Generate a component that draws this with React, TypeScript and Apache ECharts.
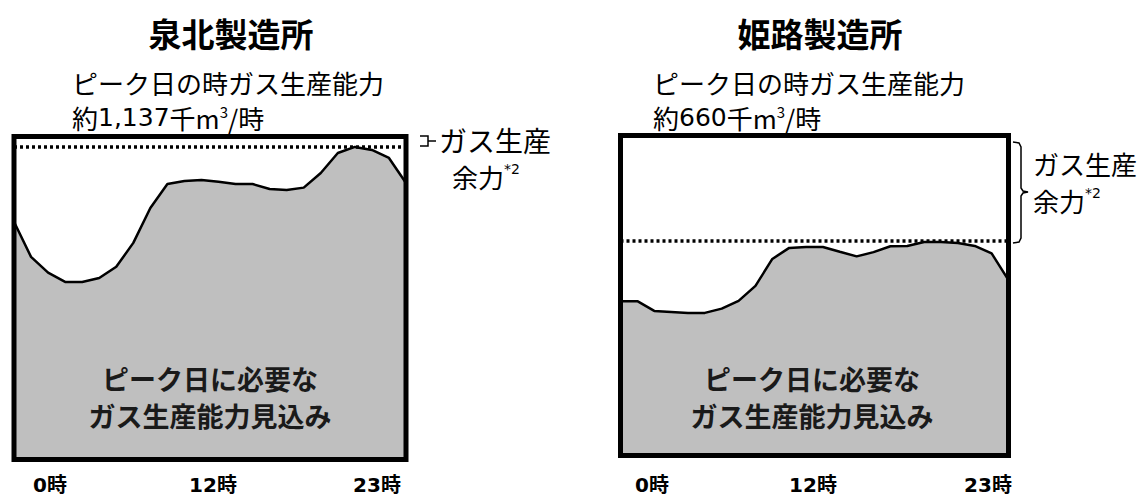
import React, { useEffect, useRef } from 'react';
import * as echarts from 'echarts';

const hours = ['0', '1', '2', '3', '4', '5', '6', '7', '8', '9', '10', '11', '12', '13', '14', '15', '16', '17', '18', '19', '20', '21', '22', '23'];
const hourLabels = ['0時', '12時', '23時'];

const plantNames = ['泉北製造所', '姫路製造所'];
const capacityTexts = ['1,137', '660'];

const senbokuDemand = [865, 737, 680, 646, 646, 660, 701, 788, 915, 1002, 1013, 1017, 1010, 1002, 1002, 984, 980, 989, 1042, 1115, 1137, 1126, 1097, 1006];
const senbokuCapacity = 1137;
const senbokuAxisMax = 1175;

const himejiDemand = [475, 475, 445, 442, 439, 439, 452, 476, 522, 605, 639, 642, 642, 627, 613, 626, 644, 645, 657, 657, 654, 645, 622, 540];
const himejiCapacity = 660;
const himejiAxisMax = 985;

const FONT = '"Noto Sans CJK JP", "Noto Sans", sans-serif';
const NUMFONT = '"DejaVu Sans", "Noto Sans CJK JP", sans-serif';

const grids = [
  { left: 14, top: 136.5, width: 392, height: 323 },
  { left: 620.5, top: 135.5, width: 388, height: 320 },
];

export default function App() {
  const ref = useRef<HTMLDivElement>(null);

  useEffect(() => {
    document.body.style.margin = '0';
    if (!ref.current) return;
    const chart = echarts.init(ref.current, undefined, { renderer: 'svg' });

    const makeSeries = (idx: number, data: number[], cap: number) => ({
      type: 'line',
      xAxisIndex: idx,
      yAxisIndex: idx,
      data,
      symbol: 'none',
      smooth: false,
      lineStyle: { color: '#000', width: 2.5 },
      areaStyle: { color: '#bfbfbf', opacity: 1 },
      markLine: {
        silent: true,
        symbol: 'none',
        label: { show: false },
        emphasis: { disabled: true },
        lineStyle: { color: '#000', width: 3.5, type: [3, 3] },
        data: [{ yAxis: cap }],
      },
    });

    const textBase = { fontFamily: FONT, fill: '#000' };

    const hourLabelPos = [
      [50, 213, 377],
      [652, 813, 988],
    ];

    const graphics: any[] = [];
    grids.forEach((g, i) => {
      graphics.push({
        type: 'rect',
        z: 100,
        shape: { x: g.left, y: g.top, width: g.width, height: g.height },
        style: { fill: 'none', stroke: '#000', lineWidth: 5 },
      });
      graphics.push({
        type: 'text',
        z: 100,
        x: i === 0 ? 231 : 820,
        y: 33,
        style: { ...textBase, text: plantNames[i], fontSize: 33, lineHeight: 36, fontWeight: 'bold', align: 'center', verticalAlign: 'middle' },
      });
      graphics.push({
        type: 'text',
        z: 100,
        x: i === 0 ? 72 : 653,
        y: 82,
        style: { ...textBase, text: 'ピーク日の時ガス生産能力', fontSize: 26, lineHeight: 26, align: 'left', verticalAlign: 'middle' },
      });
      graphics.push({
        type: 'text',
        z: 100,
        x: i === 0 ? 72 : 653,
        y: 117,
        style: {
          ...textBase,
          text: '{n|約}{d|' + capacityTexts[i] + '}{n|千m}{s|3}{n|/時}',
          align: 'left',
          verticalAlign: 'middle',
          rich: {
            n: { fontFamily: FONT, fontSize: 26, lineHeight: 26, fill: '#000', color: '#000' },
            d: { fontFamily: NUMFONT, fontSize: 25, lineHeight: 26, fill: '#000', color: '#000' },
            s: { fontFamily: FONT, fontSize: 15, lineHeight: 16, verticalAlign: 'top', fill: '#000', color: '#000' },
          },
        },
      });
      graphics.push({
        type: 'text',
        z: 100,
        x: i === 0 ? 210 : 812,
        y: 397,
        style: {
          ...textBase,
          fill: '#1a1a1a',
          text: 'ピーク日に必要な\nガス生産能力見込み',
          fontSize: 27,
          fontWeight: 'bold',
          lineHeight: 37,
          align: 'center',
          verticalAlign: 'middle',
        },
      });
      hourLabels.forEach((lab, j) => {
        graphics.push({
          type: 'text',
          z: 100,
          x: hourLabelPos[i][j],
          y: 485,
          style: { ...textBase, fontFamily: NUMFONT, text: lab, fontSize: 20, lineHeight: 20, fontWeight: 'bold', align: 'center', verticalAlign: 'middle' },
        });
      });
    });

    const sideRich = {
      n: { fontFamily: FONT, fontSize: 26, lineHeight: 28, fill: '#000', color: '#000' },
      s: { fontFamily: NUMFONT, fontSize: 14, lineHeight: 16, verticalAlign: 'top', fill: '#000', color: '#000' },
    };
    graphics.push({
      type: 'polyline',
      z: 100,
      shape: { points: [[420, 136], [428, 136], [428, 146], [420, 146]] },
      style: { stroke: '#000', lineWidth: 1.5, fill: 'none' },
    });
    graphics.push({
      type: 'line',
      z: 100,
      shape: { x1: 428, y1: 141, x2: 436, y2: 141 },
      style: { stroke: '#000', lineWidth: 1.5 },
    });
    graphics.push({
      type: 'text',
      z: 100,
      x: 439,
      y: 140,
      style: { ...textBase, text: 'ガス生産', fontSize: 28, lineHeight: 30, align: 'left', verticalAlign: 'middle' },
    });
    graphics.push({
      type: 'text',
      z: 100,
      x: 452,
      y: 176,
      style: { ...textBase, text: '{n|余力}{s|*2}', align: 'left', verticalAlign: 'middle', rich: sideRich },
    });
    graphics.push({
      type: 'polyline',
      z: 100,
      shape: {
        points: [[1013, 142], [1019, 143], [1021, 147], [1021, 188], [1023, 191], [1028, 192], [1023, 193], [1021, 196], [1021, 238], [1019, 242], [1013, 243]],
      },
      style: { stroke: '#000', lineWidth: 1.5, fill: 'none' },
    });
    graphics.push({
      type: 'text',
      z: 100,
      x: 1033,
      y: 163,
      style: { ...textBase, text: 'ガス生産', fontSize: 26, lineHeight: 28, align: 'left', verticalAlign: 'middle' },
    });
    graphics.push({
      type: 'text',
      z: 100,
      x: 1033,
      y: 200,
      style: { ...textBase, text: '{n|余力}{s|*2}', align: 'left', verticalAlign: 'middle', rich: sideRich },
    });

    chart.setOption({
      animation: false,
      grid: grids.map((g) => ({ ...g, containLabel: false })),
      xAxis: [0, 1].map((i) => ({
        type: 'category',
        gridIndex: i,
        data: hours,
        boundaryGap: false,
        show: false,
      })),
      yAxis: [
        { type: 'value', gridIndex: 0, min: 0, max: senbokuAxisMax, show: false },
        { type: 'value', gridIndex: 1, min: 0, max: himejiAxisMax, show: false },
      ],
      series: [makeSeries(0, senbokuDemand, senbokuCapacity), makeSeries(1, himejiDemand, himejiCapacity)],
      graphic: graphics,
    });

    return () => chart.dispose();
  }, []);

  return <div ref={ref} style={{ width: 1142, height: 497 }} />;
}
